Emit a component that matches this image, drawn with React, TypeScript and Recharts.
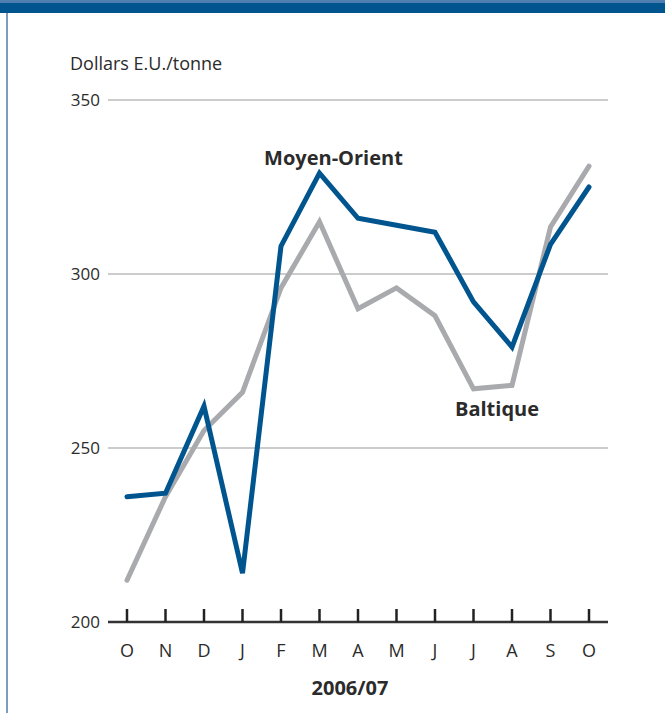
import React from "react";
import {
  CartesianGrid,
  Line,
  LineChart,
  ReferenceDot,
  XAxis,
  YAxis,
} from "recharts";

const MONTH_KEYS = [
  "2006-10", "2006-11", "2006-12", "2007-01", "2007-02", "2007-03", "2007-04",
  "2007-05", "2007-06", "2007-07", "2007-08", "2007-09", "2007-10",
];
const MONTH_LABELS = ["O", "N", "D", "J", "F", "M", "A", "M", "J", "J", "A", "S", "O"];
const MIDDLE_EAST = [236, 237, 262, 214, 308, 329, 316, 314, 312, 292, 279, 308.5, 325];
const BALTIC = [212, 236, 255, 266, 296, 315, 290, 296, 288, 267, 268, 313.5, 331];
const Y_TICKS = [200, 250, 300, 350];

const BLUE = "#00558f";
const GREY_LINE = "#a9aaad";
const TEXT = "#2b2b2b";
const FONT = "'Open Sans', 'DejaVu Sans', sans-serif";

const data = MONTH_KEYS.map((key, i) => ({
  key,
  label: MONTH_LABELS[i],
  middleEast: MIDDLE_EAST[i],
  baltic: BALTIC[i],
}));

const monthLabel = (key: string): string => {
  const i = MONTH_KEYS.indexOf(key);
  return i >= 0 ? MONTH_LABELS[i] : key;
};

const MonthTick = (props: any) => {
  const { x, y, payload } = props;
  return (
    <g>
      <line x1={x} x2={x} y1={y - 13} y2={y} stroke="#222" strokeWidth={2.5} />
      <text
        x={x}
        y={y + 35}
        textAnchor="middle"
        fill={TEXT}
        fontSize={18}
        fontFamily={FONT}
      >
        {monthLabel(payload.value)}
      </text>
    </g>
  );
};

export default function App() {
  return (
    <div
      style={{
        position: "absolute",
        left: 0,
        top: 0,
        width: 665,
        height: 713,
        background: "#fff",
        overflow: "hidden",
      }}
    >
      <div style={{ position: "absolute", left: 0, top: 0, width: 665, height: 13, background: BLUE }} />
      <div style={{ position: "absolute", left: 0, top: 0, width: 665, height: 3, background: "#4f7fb0" }} />
      <div style={{ position: "absolute", left: 6, top: 13, width: 2, height: 700, background: "#7d9cc0" }} />
      <div
        style={{
          position: "absolute",
          left: 70,
          top: 51,
          fontFamily: FONT,
          fontSize: 18,
          color: TEXT,
        }}
      >
        Dollars E.U./tonne
      </div>
      <div style={{ position: "absolute", left: 0, top: 0 }}>
        <LineChart
          width={665}
          height={713}
          data={data}
          margin={{ top: 100, right: 57, bottom: 18, left: 68 }}
        >
          <CartesianGrid vertical={false} stroke="#9a9a9a" strokeWidth={1.2} />
          <XAxis
            dataKey="key"
            type="category"
            padding={{ left: 19, right: 19 }}
            axisLine={{ stroke: "#333", strokeWidth: 2.5 }}
            tickLine={false}
            tickSize={0}
            tickMargin={0}
            interval={0}
            tick={<MonthTick />}
            height={73}
            label={{
              value: "2006/07",
              position: "insideBottom",
              offset: 0,
              dx: -8,
              fill: TEXT,
              fontSize: 20,
              fontWeight: 700,
              fontFamily: FONT,
            }}
          />
          <YAxis
            domain={[200, 350]}
            ticks={Y_TICKS}
            axisLine={false}
            tickLine={false}
            tickSize={0}
            tickMargin={8}
            width={40}
            tick={{ fill: TEXT, fontSize: 17, fontFamily: FONT }}
          />
          <Line
            dataKey="baltic"
            stroke={GREY_LINE}
            strokeWidth={5}
            strokeLinecap="round"
            dot={false}
            isAnimationActive={false}
          />
          <Line
            dataKey="middleEast"
            stroke={BLUE}
            strokeWidth={5}
            strokeLinecap="round"
            dot={false}
            isAnimationActive={false}
          />
          <ReferenceDot
            x="2007-03"
            y={333.5}
            r={0}
            fill="none"
            stroke="none"
            label={{
              value: "Moyen-Orient",
              position: "center",
              dx: 14,
              fill: TEXT,
              fontSize: 20,
              fontWeight: 700,
              fontFamily: FONT,
            }}
          />
          <ReferenceDot
            x="2007-08"
            y={261.2}
            r={0}
            fill="none"
            stroke="none"
            label={{
              value: "Baltique",
              position: "center",
              dx: -15,
              fill: TEXT,
              fontSize: 20,
              fontWeight: 700,
              fontFamily: FONT,
            }}
          />
        </LineChart>
      </div>
    </div>
  );
}
